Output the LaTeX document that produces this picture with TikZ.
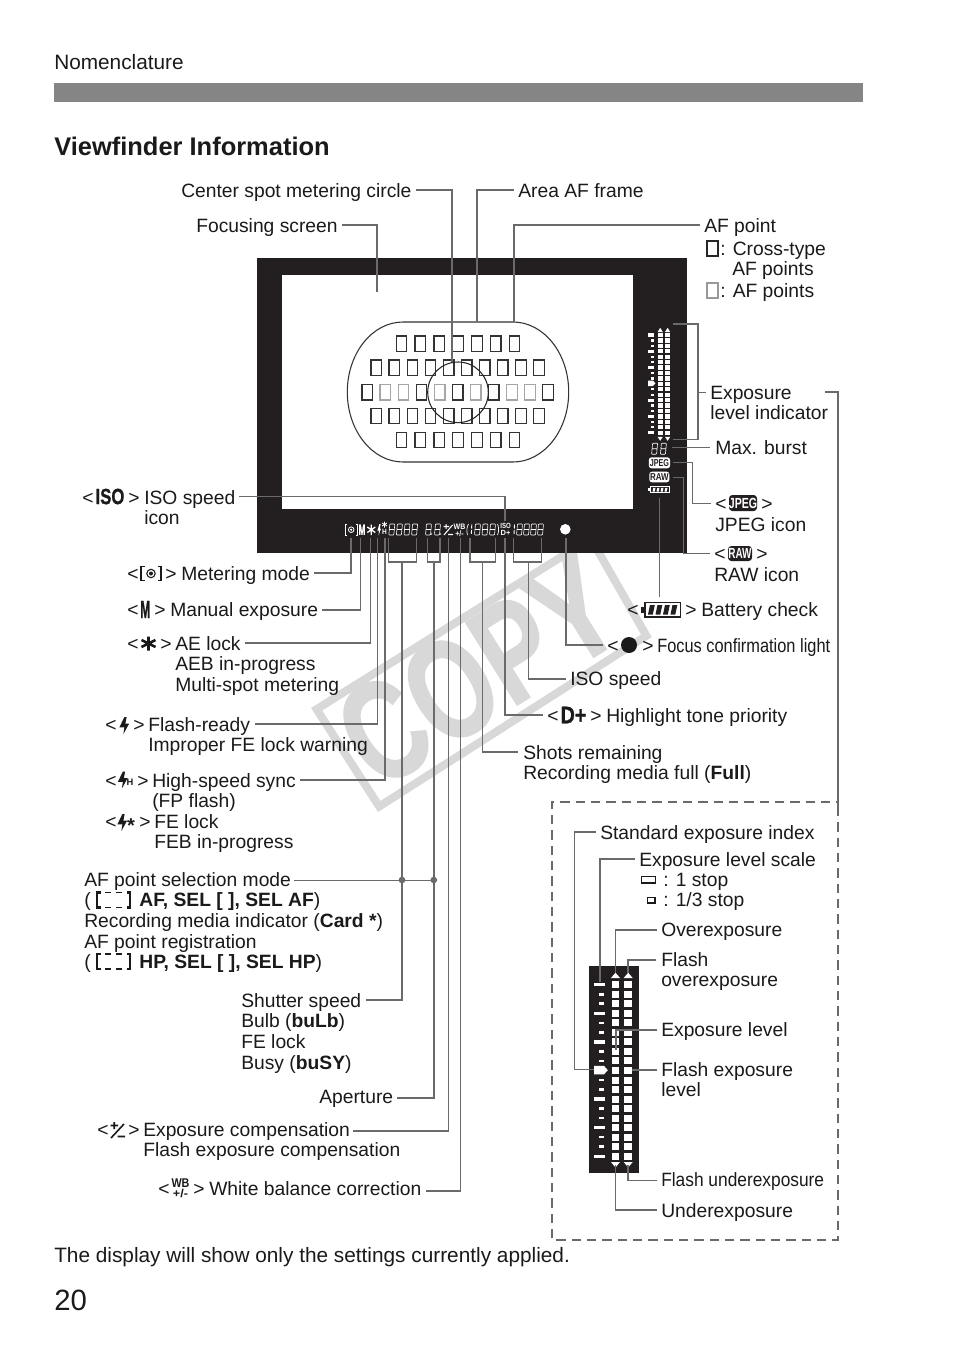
\documentclass[tikz,border=0pt]{standalone}
\usepackage{fontspec}
\usepackage{graphicx}
\setmainfont{Liberation Sans}
\newfontface\heavyface[FakeBold=1.2]{Liberation Sans Bold}
\definecolor{ink}{HTML}{1A1A1A}
\definecolor{blk}{HTML}{231F20}
\definecolor{leadc}{HTML}{6A6A6A}
\definecolor{wm}{HTML}{D8D8D8}
\tikzset{
 lbl/.style={anchor=north west,inner xsep=3pt,inner ysep=0pt,align=left,text=ink,font=\fontsize{14.45pt}{15.45pt}\selectfont},
 big/.style={font=\fontsize{15.6pt}{15.6pt}\selectfont},
 lead/.style={draw=leadc,line width=1.15pt,line join=miter},
 thinlead/.style={draw=leadc,line width=.75pt},
 afb/.style={draw=#1,line width=.95pt,fill=none},
 lcd/.style={draw=white,line width=.45pt,line join=round},
 wseg/.style={fill=white,draw=none},
 wtxt/.style={text=white,inner sep=0pt,font=\fontsize{8pt}{8pt}\selectfont\bfseries},
 btxt/.style={text=ink,inner sep=0pt,font=\fontsize{15.4pt}{15.45pt}\selectfont\bfseries},
 jdot/.style={circle,fill=leadc,inner sep=0pt,minimum size=5pt},
}
\newcommand\lab[4]{\node[lbl] (#1) at (#2-4,#3-14.4) {\rule{0pt}{10.8pt}#4};}
\newcommand\biglab[4]{\node[lbl,big] (#1) at (#2-4,#3-14.4) {\rule{0pt}{10.8pt}#4};}
\newcommand\ang[4]{\node[lbl,inner xsep=0pt] (#1a) at (#2-4,#4-14.4) {\rule{0pt}{10.8pt}\hspace*{3pt}<};\node[lbl,inner xsep=0pt] (#1b) at (#3,#4-14.4) {\rule{0pt}{10.8pt}>};}
\newcommand\segdig[2]{\draw[lcd,rounded corners=.5pt] (#1+1,#2-5.5) -- (#1+6,#2-5.5) -- (#1+5,#2+5.5) -- (#1,#2+5.5) -- cycle (#1+.5,#2) -- (#1+5.5,#2);}
\newcommand\dbr[2]{\draw[ink,line width=1.7pt] (#1+3.5,#2-7.5) -- (#1,#2-7.5) -- (#1,#2+7.5) -- (#1+3.5,#2+7.5)
 (#1+29.5,#2-7.5) -- (#1+33,#2-7.5) -- (#1+33,#2+7.5) -- (#1+29.5,#2+7.5);
 \draw[ink,line width=1.1pt] (#1+8,#2-7.5) -- (#1+13.5,#2-7.5) (#1+19,#2-7.5) -- (#1+24.5,#2-7.5) (#1+8,#2+7.5) -- (#1+13.5,#2+7.5) (#1+19,#2+7.5) -- (#1+24.5,#2+7.5);}
\newcommand\flashg[3]{\fill[#3] (#1+.4,#2-8.5) -- (#1+2.6,#2-8.5) -- (#1+1.4,#2-2) -- (#1+5.2,#2-2) -- (#1-.6,#2+8.5) -- (#1+.4,#2+1.8) -- (#1-4.6,#2+1.8) -- cycle;}
\begin{document}
\begin{tikzpicture}[x=.75pt,y=-.75pt]
\useasboundingbox (0,0) rectangle (954,1345);
\fill[white] (0,0) rectangle (954,1345);
% watermark
\draw[wm,line width=6pt,line join=miter] (316.6,709.2) -- (590.8,538.5) -- (646.4,635.8) -- (379.2,806.5) -- cycle;
\node[text=wm,inner sep=0pt,rotate=32,font=\fontsize{106pt}{106pt}\heavyface] (copy) at (478,672) {\scalebox{.74}[1]{COPY}};
% header
\fill[black!48] (54,83) rectangle (863,102);
\biglab{nom}{54}{69}{Nomenclature}
\node[lbl,font=\fontsize{19.1pt}{20pt}\selectfont\bfseries] (title) at (54-4,155-18.6) {\rule{0pt}{14pt}Viewfinder Information};
% viewfinder body
\fill[blk] (257,257.5) rectangle (687,552.7);
\fill[white] (282.3,275.3) rectangle (633,509);
% AF frame
\draw[black!80,line width=.8pt] (403,322) -- (513,322) arc[start angle=-90,end angle=90,x radius=55.7,y radius=70] -- (403,462) arc[start angle=90,end angle=270,x radius=55.7,y radius=70] -- cycle;
\coordinate (frameA) at (477,322);
\coordinate (frameB) at (514,322);
% AF points
\foreach \y in {343.7,440}{\foreach \i in {-3,...,3}{
 \draw[afb=black!80] (458+\i*18.83-5.3,\y-7.6) rectangle (458+\i*18.83+5.3,\y+7.6);}}
\foreach \y in {367.7,416}{\foreach \i in {0,...,9}{
 \draw[afb=black!80] (376.3+\i*18.07-5.3,\y-7.6) rectangle (376.3+\i*18.07+5.3,\y+7.6);}}
\foreach \i/\c in {0/80,1/35,2/35,3/80,4/35,5/80,6/35,7/80,8/35,9/35,10/80}{
 \draw[afb=black!\c] (367.3+\i*18.07-5.3,392.3-7.6) rectangle (367.3+\i*18.07+5.3,392.3+7.6);}
\draw[black!85,line width=.8pt] (458,392.3) circle[radius=30.3];
\coordinate (spotC) at (452,362);
% LCD row
\draw[white,line width=.7pt] (347,524.5) -- (345,524.5) -- (345,535) -- (347,535) (355.5,524.5) -- (357.5,524.5) -- (357.5,535) -- (355.5,535);
\draw[white,line width=.6pt] (351.2,529.7) circle[radius=2.8];
\fill[white] (351.2,529.7) circle[radius=1.2];
\node[wtxt] (lM) at (362,529.7) {\scalebox{.55}[1]{\fontsize{11pt}{11pt}\heavyface M}};
\draw[white,line width=1pt] (371.3,524.5) -- (371.3,535) (367.3,527) -- (375.3,532.5) (367.3,532.5) -- (375.3,527);
\fill[white] (379.4,524) -- (380.6,524) -- (379.9,528.5) -- (381,528.5) -- (378.6,535.5) -- (379,530.5) -- (377.4,530.5) -- cycle;
\draw[white,line width=.6pt] (384.5,521.5) -- (384.5,527.5) (382,523) -- (387,526) (382,526) -- (387,523);
\node[wtxt] (lH) at (384.5,532) {\scalebox{.7}[.8]{\fontsize{7pt}{7pt}\selectfont H}};
\foreach \x in {388.8,396.4,404,411.6}{\segdig{\x}{529.5}}
\foreach \x in {425.5,434.5}{\segdig{\x}{529.5}}
\fill[white] (431.6,534) circle[radius=.7] (440.6,534) circle[radius=.7];
\draw[white,line width=.8pt] (443.5,526.5) -- (449,526.5) (446.2,524) -- (446.2,529) (444,535) -- (452.5,525) (448,534.5) -- (453,534.5);
\node[wtxt] (lWB) at (459.5,526.3) {\scalebox{.75}[.85]{\fontsize{7pt}{7pt}\selectfont WB}};
\node[wtxt] (lWBp) at (459.5,533.3) {\scalebox{.75}[.85]{\fontsize{7pt}{7pt}\selectfont +/-}};
\draw[white,line width=.5pt] (468.5,524) .. controls (466.5,527) and (466.5,532) .. (467.5,535);
\draw[white,line width=.7pt,dash pattern=on 3pt off 1pt] (471.8,524.5) -- (471.3,535);
\foreach \x in {474.5,482,489.5}{\segdig{\x}{529.5}}
\draw[white,line width=.5pt] (497.5,524) .. controls (499,527) and (499,532) .. (497.5,535);
\node[wtxt] (lISO) at (505.6,525.6) {\scalebox{.65}[.8]{\fontsize{7pt}{7pt}\selectfont ISO}};
\node[wtxt] (lDp) at (505.6,533.4) {\scalebox{.8}[.8]{\fontsize{7pt}{7pt}\selectfont D+}};
\draw[white,line width=.7pt,dash pattern=on 3pt off 1pt] (514.5,524.5) -- (514,535);
\foreach \x in {516.5,523.5,530.5,537.5}{\segdig{\x}{529.5}}
\fill[white] (565.3,529.3) circle[radius=5.3];
% exposure strip in viewfinder
\foreach \i in {0,...,18}{
 \pgfmathsetmacro\yy{335+5.43*\i}
 \fill[wseg] (657.6,\yy-2.1) rectangle (662.6,\yy+2.1);
 \fill[wseg] (665,\yy-2.1) rectangle (670,\yy+2.1);
 \pgfmathparse{int(mod(\i,3))}
 \ifnum\pgfmathresult=0
  \fill[wseg] (648,\yy-1.6) rectangle (654.3,\yy+1.6);
 \else
  \fill[wseg] (651,\yy-1.1) rectangle (654.3,\yy+1.1);
 \fi}
\fill[wseg] (648,380.7) -- (653,380.7) -- (655.5,383.3) -- (653,386) -- (648,386) -- cycle;
\fill[wseg] (660.2,327.8) -- (662.8,332) -- (657.6,332) -- cycle (667.6,327.8) -- (670.2,332) -- (665,332) -- cycle;
\fill[wseg] (660.2,440.8) -- (662.8,436.8) -- (657.6,436.8) -- cycle (667.6,440.8) -- (670.2,436.8) -- (665,436.8) -- cycle;
\segdig{651.6}{448.7}\segdig{660.4}{448.7}
\fill[white,rounded corners=2pt] (648.8,457.3) rectangle (670,468.3);
\node[text=blk,inner sep=0pt,font=\fontsize{7.5pt}{7.5pt}\selectfont\bfseries] (lJ) at (659.4,462.8) {\scalebox{.72}[1]{JPEG}};
\fill[white,rounded corners=2pt] (649.3,471.7) rectangle (669.4,482.3);
\node[text=blk,inner sep=0pt,font=\fontsize{7.5pt}{7.5pt}\selectfont\bfseries] (lR) at (659.4,477) {\scalebox{.8}[1]{RAW}};
\draw[white,line width=.6pt] (650.5,486.5) rectangle (669.5,492.8);
\fill[white] (648.3,488) rectangle (650.5,491.2);
\foreach \x in {652.5,656.5,660.5,664.5}{\fill[white] (\x+.8,487.8) -- (\x+3,487.8) -- (\x+2.2,491.6) -- (\x,491.6) -- cycle;}
% labels: top
\lab{cs}{181}{197}{Center spot metering circle}
\lab{afr}{518}{197}{Area AF frame}
\lab{fs}{196}{232}{Focusing screen}
\lab{afp}{704}{232}{AF point}
\lab{cross}{720}{255}{: Cross-type\\\hspace*{9pt}AF points}
\lab{afpts}{720}{297}{: AF points}
\draw[black!85,line width=.8pt] (707,241) rectangle (718,256);
\draw[black!40,line width=.8pt] (707,283) rectangle (718,298);
% labels: right
\lab{expi}{710}{399}{Exposure\\level indicator}
\lab{maxb}{715}{454}{Max. burst}
\ang{jp}{715}{761}{510}
\fill[blk,rounded corners=2.5pt] (729,495) rectangle (757,511);
\node[text=white,inner sep=0pt,font=\fontsize{11pt}{11pt}\selectfont\bfseries] (ijp) at (743,503) {\scalebox{.72}[1]{JPEG}};
\lab{jpt}{715}{531}{JPEG icon}
\ang{rw}{714}{756}{560}
\fill[blk,rounded corners=2.5pt] (728,546) rectangle (752,561);
\node[text=white,inner sep=0pt,font=\fontsize{11pt}{11pt}\selectfont\bfseries] (irw) at (740,553.5) {\scalebox{.68}[1]{RAW}};
\lab{rwt}{714}{581}{RAW icon}
\ang{bt}{627}{685}{616}
\draw[blk,line width=1.1pt] (645,602.5) rectangle (680.5,617);
\fill[blk] (641,606.5) rectangle (645,613);
\foreach \x in {648,655.5,663,670.5}{\fill[blk] (\x+2,605) -- (\x+6.8,605) -- (\x+4.8,614.5) -- (\x,614.5) -- cycle;}
\lab{btt}{701}{616}{Battery check}
\ang{fc}{607}{642}{652}
\node[circle,fill=ink,inner sep=0pt,minimum size=12pt] (ifc) at (629,645) {};
\lab{fct}{657}{652}{\scalebox{.85}[1]{Focus confirmation light}}
\lab{isos}{570}{685}{ISO speed}
\ang{dp}{547}{590}{722}
\node[btxt,font=\fontsize{18pt}{18pt}\heavyface] (idp) at (573.5,715) {\scalebox{.82}[1]{D+}};
\lab{dpt}{606}{722}{Highlight tone priority}
\lab{shots}{523}{759}{Shots remaining\\Recording media full (\textbf{Full})}
% labels: left
\ang{iso}{82}{128}{504}
\node[btxt,font=\fontsize{16.5pt}{16.5pt}\heavyface] (iiso) at (110,496.5) {\scalebox{.76}[1]{ISO}};
\lab{isot}{144}{504}{ISO speed\\icon}
\ang{mt}{127}{165}{580}
\draw[ink,line width=1.1pt] (144.5,566.5) -- (141,566.5) -- (141,580.5) -- (144.5,580.5) (157.5,566.5) -- (161,566.5) -- (161,580.5) -- (157.5,580.5);
\draw[ink,line width=.8pt] (151,573.5) circle[radius=4.2];
\fill[ink] (151,573.5) circle[radius=2];
\lab{mtt}{181}{580}{Metering mode}
\ang{me}{127}{154}{616}
\node[btxt,font=\fontsize{15.5pt}{15.5pt}\heavyface] (ime) at (145.3,609.5) {\scalebox{.58}[1.2]{M}};
\lab{met}{170}{616}{Manual exposure}
\ang{ae}{127}{160}{650}
\draw[ink,line width=1.9pt] (148.5,636.5) -- (148.5,650.5) (141.5,640) -- (155.5,647) (141.5,647) -- (155.5,640);
\lab{aet}{175}{650}{AE lock\\AEB in-progress\\Multi-spot metering}
\ang{fl}{105}{133}{731}
\flashg{124}{725.5}{ink}
\lab{flt}{148}{731}{Flash-ready\\Improper FE lock warning}
\ang{hs}{105}{137}{787}
\flashg{122.5}{780}{ink}
\node[btxt,font=\fontsize{7pt}{7pt}\selectfont\bfseries] (ihs) at (130,782.5) {H};
\lab{hst}{152}{787}{High-speed sync\\(FP flash)}
\ang{fe}{105}{139}{828}
\flashg{122}{822.5}{ink}
\node[btxt,font=\fontsize{15pt}{15pt}\selectfont\bfseries] (ife) at (131,825.5) {*};
\lab{fet}{154}{828}{FE lock\\FEB in-progress}
\lab{afs}{84}{886}{AF point selection mode\\(\hspace{36.5pt}\textbf{AF, SEL [ ], SEL AF})\\Recording media indicator (\textbf{Card *})\\AF point registration\\(\hspace{36.5pt}\textbf{HP, SEL [ ], SEL HP})}
\dbr{97}{900}
\dbr{97}{961.5}
\lab{shu}{241}{1007}{Shutter speed\\Bulb (\textbf{buLb})\\FE lock\\Busy (\textbf{buSY})}
\lab{ape}{319}{1103}{Aperture}
\ang{ec}{97}{128}{1136}
\draw[ink,line width=1.2pt] (110.5,1125.5) -- (118,1125.5) (114.2,1122) -- (114.2,1129) (111,1138) -- (124,1124) (117.5,1136.5) -- (125,1136.5);
\lab{ect}{143}{1136}{Exposure compensation\\Flash exposure compensation}
\ang{wb}{158}{193}{1195}
\node[btxt,font=\fontsize{9.5pt}{9.5pt}\selectfont\bfseries] (iwb) at (180.5,1183.5) {\scalebox{.85}[1]{WB}};
\node[btxt,font=\fontsize{9.5pt}{9.5pt}\selectfont\bfseries] (iwb2) at (180.5,1193.5) {\scalebox{1}[.9]{+/-}};
\lab{wbt}{209}{1195}{White balance correction}
% bottom
\biglab{disp}{54}{1262}{The display will show only the settings currently applied.}
\node[lbl,font=\fontsize{22pt}{22pt}\selectfont] (pg) at (54-4,1310-20.5) {\rule{0pt}{15.4pt}20};
% dashed panel
\draw[leadc,line width=.95pt,dash pattern=on 7pt off 4.5pt] (838,807) -- (838,1240) -- (552,1240) -- (552,802) -- (838,802);
\fill[blk] (589,966) rectangle (639.3,1172.7);
\foreach \i in {0,...,18}{
 \pgfmathsetmacro\yy{984.7+9.53*\i}
 \fill[wseg] (611.7,\yy-3.5) rectangle (619.3,\yy+3.5);
 \fill[wseg] (624.4,\yy-3.5) rectangle (632,\yy+3.5);
 \pgfmathparse{int(mod(\i,3))}
 \ifnum\pgfmathresult=0
  \fill[wseg] (594,\yy-1.7) rectangle (605,\yy+1.7);
 \else
  \fill[wseg] (599,\yy-1.3) rectangle (604,\yy+1.3);
 \fi}
\fill[wseg] (594,1065.8) -- (604,1065.8) -- (607.8,1070.2) -- (604,1074.4) -- (594,1074.4) -- cycle;
\fill[wseg] (615.5,972.7) -- (620,978) -- (611,978) -- cycle (628.2,972.7) -- (632.7,978) -- (623.7,978) -- cycle;
\fill[wseg] (615.5,1167.5) -- (620,1162) -- (611,1162) -- cycle (628.2,1167.5) -- (632.7,1162) -- (623.7,1162) -- cycle;
\lab{sei}{600}{839}{Standard exposure index}
\lab{els}{639}{866}{Exposure level scale}
\draw[ink,line width=.9pt] (641.5,876.5) rectangle (655.5,883);
\lab{one}{663}{886}{: 1 stop}
\draw[ink,line width=.9pt] (647.5,897.5) rectangle (655,903);
\lab{third}{663}{906}{: 1/3 stop}
\lab{ove}{661}{936}{Overexposure}
\lab{fov}{661}{966}{Flash\\overexposure}
\lab{exl}{661}{1036}{Exposure level}
\lab{fel}{661}{1076}{Flash exposure\\level}
\lab{fun}{661}{1186}{\scalebox{.9}[1]{Flash underexposure}}
\lab{und}{661}{1217}{Underexposure}
% free ends of connectors
\coordinate (eMet) at (351,538);
\coordinate (eMan) at (360.7,538);
\coordinate (eAE) at (370.7,538);
\coordinate (eFl) at (377.7,538);
\coordinate (eHS) at (385,538);
\coordinate (eWB) at (460.7,538);
\coordinate (eEC) at (448.3,538);
\coordinate (eIso) at (505,521);
\coordinate (eDp) at (505,538);
\coordinate (eDot) at (566,538);
\coordinate (eBat) at (659.5,498);
\coordinate (sAE) at (245,643);
\coordinate (sFl) at (255,724);
\coordinate (sHS) at (300,780);
\coordinate (sIso) at (239,496.5);
\coordinate (sAFs) at (294,880);
\coordinate (sEC) at (353,1131);
\coordinate (sSh) at (366,1000);
\coordinate (sShots) at (518,752);
\coordinate (sFov) at (656,960);
\coordinate (sFel) at (656.7,1070);
\coordinate (sExp) at (825,392);
\coordinate (sMx) at (710,447.3);
% top connectors
\draw[lead] (cs.east |- 0,190) -| (spotC);
\draw[lead] (afr.west |- 0,190) -| (frameA);
\draw[lead] (fs.east |- 0,225) -| (377,292);
\draw[lead] (afp.west |- 0,225) -| (frameB);
% left connectors
\draw[lead] (mtt.east |- 0,573) -| (eMet);
\draw[lead] (met.east |- 0,610) -| (eMan);
\draw[lead] (sAE) -| (eAE);
\draw[lead] (sFl) -| (eFl);
\draw[lead] (sHS) -| (eHS);
\draw[lead] (sIso) -| (eIso);
% brackets with stems
\draw[lead] (388.3,538) |- (416.7,562) -- (416.7,538);
\draw[lead] (402,562) |- (sSh);
\draw[lead] (427.7,538) |- (440,562) -- (440,538);
\draw[lead] (433.8,562) |- (ape.east |- 0,1098);
\draw[lead] (eEC) |- (sEC);
\draw[lead] (eWB) |- (wbt.east |- 0,1191);
\draw[lead] (470,538) |- (495.7,562) -- (495.7,538);
\draw[lead] (482.3,562) |- (sShots);
\draw[lead] (eDp) |- (dpa.west |- 0,715);
\draw[lead] (513.3,538) |- (541.7,562) -- (541.7,538);
\draw[lead] (528.7,562) |- (isos.west |- 0,679);
\draw[lead] (eDot) |- (fca.west |- 0,645);
\draw[thinlead] (sAFs) -- (434,880);
\node[jdot] (j1) at (402,880) {};
\node[jdot] (j2) at (433.8,880) {};
% right connectors
\draw[thinlead] (eBat) -- (659.5,597);
\draw[lead] (673,324) -| (698,439.3) -- (673,439.3);
\draw[lead] (698,392.7) -- (706,392.7);
\draw[lead] (672.3,447.3) -- (sMx);
\draw[lead] (673,462.7) -| (692.3,503.3) -- (jpa.west |- 0,503.3);
\draw[lead] (673,477.7) -| (683.3,553.3) -- (rwa.west |- 0,553.3);
\draw[lead] (sExp) -| (838,807);
% panel connectors
\draw[lead] (sei.west |- 0,832) -| (574.5,1069.5) -- (593.5,1069.5);
\draw[lead] (els.west |- 0,859) -| (600,982);
\draw[lead] (ove.west |- 0,930) -| (615.7,973);
\draw[lead] (sFov) -| (628,973);
\draw[lead] (exl.west |- 0,1030) -| (616,1050);
\draw[lead] (sFel) -- (631.7,1070);
\draw[lead] (fun.west |- 0,1180.5) -| (628,1165);
\draw[lead] (und.west |- 0,1210) -| (615.7,1165);
\end{tikzpicture}
\end{document}
